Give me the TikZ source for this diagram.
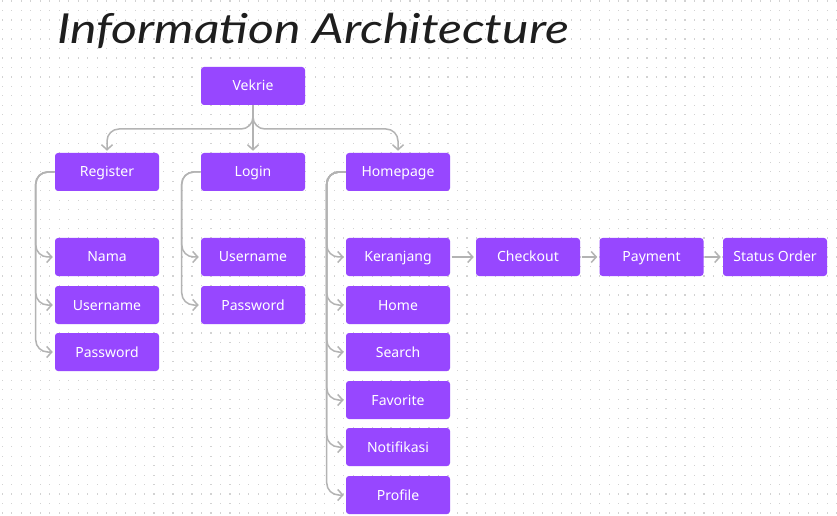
\documentclass[tikz,border=0pt]{standalone}
\usepackage{fontspec}
\setmainfont{Noto Sans}
\newfontfamily\titlefont{Lato}
\usetikzlibrary{arrows.meta}
\definecolor{vpurple}{HTML}{9747FF}
\definecolor{conncol}{HTML}{B3B3B3}
\definecolor{dotc}{HTML}{D2D2D2}
\definecolor{titlec}{HTML}{1E1E1E}
\begin{document}
\begin{tikzpicture}[x=0.75pt,y=-0.75pt,
  box/.style={fill=vpurple, rounded corners=2.25pt, minimum width=78pt, minimum height=28.5pt,
    text=white, font=\fontsize{10.5pt}{12pt}\selectfont, inner sep=0pt,
    text height=7.5pt, text depth=0pt},
  link/.style={draw=conncol, line width=1.125pt, rounded corners=9pt,
    -{Straight Barb[length=3.75pt,width=8.25pt]}, shorten >=1.5pt},
  titlestyle/.style={font=\titlefont\itshape\fontsize{31pt}{38pt}\selectfont, text=titlec, inner sep=0pt}]
\useasboundingbox (0,0) rectangle (837,516);
\fill[white] (0,0) rectangle (837,516);
\foreach \i in {0,...,88}{
  \foreach \j in {0,...,54}{
    \fill[dotc] ({1.8+9.48*\i},{0.5+9.48*\j}) rectangle ++(1.2,1.2);
  }
}
\node[titlestyle, anchor=base west] (title) at (57,44) {\scalebox{1.21}[1]{Information Architecture}};
% nodes
\node[box] (vek) at (253,86) {Vekrie};
\node[box] (reg) at (107,172) {Register};
\node[box] (log) at (253,172) {Login};
\node[box] (hom) at (398,172) {Homepage};
\node[box] (nam) at (107,257) {Nama};
\node[box] (ru) at (107,305) {Username};
\node[box] (rp) at (107,352) {Password};
\node[box] (lu) at (253,257) {Username};
\node[box] (lp) at (253,305) {Password};
\node[box] (ker) at (398,257) {Keranjang};
\node[box] (hme) at (398,305) {Home};
\node[box] (sea) at (398,352) {Search};
\node[box] (fav) at (398,400) {Favorite};
\node[box] (noti) at (398,447) {Notifikasi};
\node[box] (prof) at (398,495) {Profile};
\node[box] (chk) at (528,257) {Checkout};
\node[box] (pay) at (651.5,257) {Payment};
\node[box] (sta) at (775,257) {Status Order};
\coordinate (hy) at (0,129);
% top connectors
\draw[link] (vek.south) |- (reg.north |- hy) -- (reg.north);
\draw[link] (vek.south) -- (log.north);
\draw[link] (vek.south) |- (hom.north |- hy) -- (hom.north);
% children
\foreach \c in {nam,ru,rp}{\draw[link] (reg.west) -- ++(-19,0) |- (\c.west);}
\foreach \c in {lu,lp}{\draw[link] (log.west) -- ++(-19,0) |- (\c.west);}
\foreach \c in {ker,hme,sea,fav,noti,prof}{\draw[link] (hom.west) -- ++(-19,0) |- (\c.west);}
% flow
\draw[link, shorten <=1pt] (ker.east) -- (chk.west);
\draw[link, shorten <=1pt] (chk.east) -- (pay.west);
\draw[link, shorten <=1pt] (pay.east) -- (sta.west);
\end{tikzpicture}
\end{document}
